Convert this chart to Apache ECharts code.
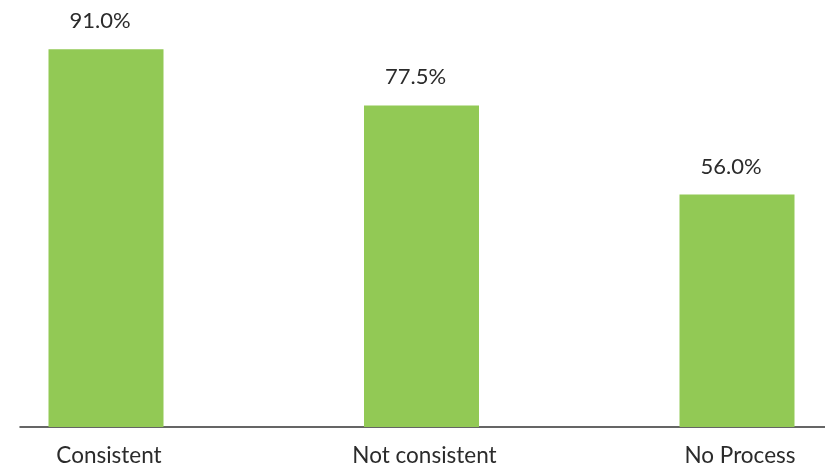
<!DOCTYPE html>
<html>
<head>
<meta charset="utf-8">
<script src="https://cdn.jsdelivr.net/npm/echarts@6/dist/echarts.min.js"></script>
<style>
  html, body { margin: 0; padding: 0; background: #ffffff; }
  #chart { width: 825px; height: 467px; }
</style>
</head>
<body>
<div id="chart"></div>
<script>
// Share of respondents by process type
var categories = ['Consistent', 'Not consistent', 'No Process'];
var values = [91.0, 77.5, 56.0];

var chart = echarts.init(document.getElementById('chart'), null, { renderer: 'canvas' });

var textColor = '#2b2b2b';
var fontFamily = 'Lato, "Noto Sans", sans-serif';

chart.setOption({
  animation: false,
  backgroundColor: '#ffffff',
  grid: [
    // bars
    { left: 106, right: 88, top: 12, bottom: 40 },
    // baseline rule spanning the full width
    { left: 20, right: 0, top: 12, bottom: 40 }
  ],
  xAxis: [
    {
      type: 'category',
      gridIndex: 0,
      data: categories,
      boundaryGap: false,
      axisLine: { show: false },
      axisTick: { show: false },
      axisLabel: {
        color: textColor,
        fontSize: 22.5,
        fontFamily: fontFamily,
        margin: 17,
        padding: [0, 0, 0, 6]
      }
    },
    {
      type: 'value',
      gridIndex: 1,
      min: 0,
      max: 1,
      axisLine: { show: true, lineStyle: { color: '#333333', width: 1.5 } },
      axisTick: { show: false },
      axisLabel: { show: false },
      splitLine: { show: false }
    }
  ],
  yAxis: [
    {
      type: 'value',
      gridIndex: 0,
      min: 0,
      max: 100,
      show: false
    },
    {
      type: 'value',
      gridIndex: 1,
      min: 0,
      max: 100,
      show: false
    }
  ],
  series: [
    {
      type: 'bar',
      xAxisIndex: 0,
      yAxisIndex: 0,
      data: values,
      barWidth: 115,
      z: 5,
      itemStyle: { color: '#92c955' },
      label: {
        show: true,
        position: 'top',
        distance: 17,
        offset: [-6, 0],
        color: textColor,
        fontSize: 22,
        fontFamily: fontFamily,
        formatter: function (p) { return p.value.toFixed(1) + '%'; }
      }
    }
  ]
});
</script>
</body>
</html>
